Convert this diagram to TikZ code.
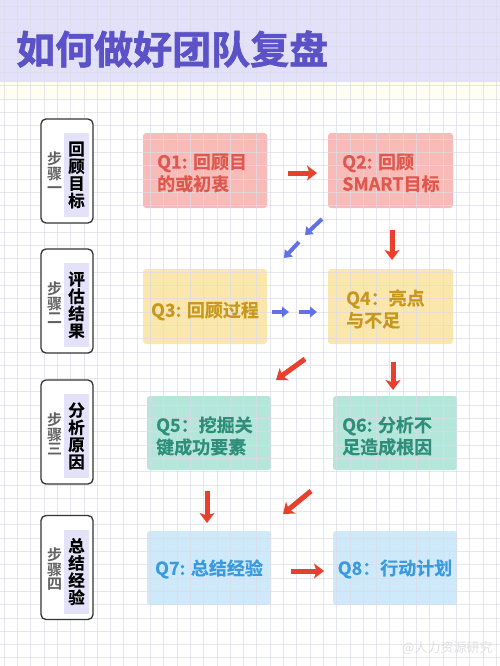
\documentclass[tikz,border=0pt]{standalone}
\usepackage{fontspec}
\setmainfont{Noto Sans CJK SC}[BoldFont={* Bold}]
\newfontfamily\titlefont{Noto Sans CJK SC Bold}[FakeBold=1.6]
\newfontfamily\heavyfont{Noto Sans CJK SC Bold}[FakeBold=0.5]
\usetikzlibrary{arrows.meta}
\definecolor{bandc}{HTML}{E3E1FA}
\definecolor{titlec}{HTML}{5C52C8}
\definecolor{gridc}{HTML}{DCDCE8}
\definecolor{stripc}{HTML}{E4E2F8}
\definecolor{redfill}{HTML}{F8B2AE}\definecolor{redtext}{HTML}{E0574E}
\definecolor{yelfill}{HTML}{FBE3A0}\definecolor{yeltext}{HTML}{C8981C}
\definecolor{grnfill}{HTML}{ABE3D6}\definecolor{grntext}{HTML}{2E8E7A}
\definecolor{blufill}{HTML}{C8E6FA}\definecolor{blutext}{HTML}{3A9AE0}
\definecolor{redarr}{HTML}{E8402C}
\definecolor{bluarr}{HTML}{6272E6}
\tikzset{
  qbox/.style={rounded corners=3pt, fill opacity=0.88},
  qtext/.style={font=\heavyfont\fontsize{18}{22}\selectfont, align=left, inner sep=0pt},
  stepbox/.style={draw=black!80, line width=1.3pt, rounded corners=5pt, fill=white},
  striptext/.style={font=\heavyfont\fontsize{16.5}{17.2}\selectfont, align=center, inner sep=0pt, text=black},
  graytext/.style={font=\bfseries\fontsize{15}{14.5}\selectfont, align=center, inner sep=0pt, text=black!62},
  redarrow/.style={draw=redarr, line width=5pt, -{Stealth[length=10pt,width=15pt,inset=2.5pt]}},
  bluarrow/.style={draw=bluarr, line width=4pt, -{Triangle[length=7pt,width=10.5pt]}},
}
\begin{document}
\begin{tikzpicture}[x=1pt,y=-1pt]
\useasboundingbox (0,0) rectangle (500,666);
\clip (0,0) rectangle (500,666);
\fill[white] (0,0) rectangle (500,666);
% title band
\fill[bandc] (0,0) rectangle (500,82);
\fill[yellow!5] (0,82) rectangle (500,100);
% Q box fills
\fill[qbox, redfill] (143,133) rectangle (267,208);
\fill[qbox, redfill] (328,133) rectangle (453,208);
\fill[qbox, yelfill] (143,269) rectangle (267,344);
\fill[qbox, yelfill] (328,269) rectangle (453,344);
\fill[qbox, grnfill] (147,396) rectangle (271,470);
\fill[qbox, grnfill] (333,396) rectangle (457,470);
\fill[qbox, blufill] (147,531) rectangle (271,605);
\fill[qbox, blufill] (333,531) rectangle (457,605);
% grid
\foreach \i in {0,...,38} \draw[gridc, line width=0.6pt, opacity=0.7] (\i*13.3+4,0) -- (\i*13.3+4,666);
\foreach \j in {0,...,50} \draw[gridc, line width=0.6pt, opacity=0.7] (0,\j*13.3+6) -- (500,\j*13.3+6);
% title
\node[anchor=west, inner sep=0pt, text=titlec, font=\titlefont\fontsize{39}{40}\selectfont] (title) at (16,49) {如何做好团队复盘};
% step boxes
\foreach \n/\c/\s/\g in {1/171/回\\顾\\目\\标/步\\骤\\一, 2/301/评\\估\\结\\果/步\\骤\\二, 3/432/分\\析\\原\\因/步\\骤\\三, 4/567.5/总\\结\\经\\验/步\\骤\\四}{
  \draw[stepbox] (41,\c-52) rectangle (93,\c+52);
  \fill[stripc] (64,\c-38) rectangle (89,\c+46);
  \node[striptext] (s\n) at (76.5,\c+4) {\s};
  \node[graytext] (g\n) at (54.5,\c+2) {\g};
}
% Q texts
\node[qtext, text=redtext, anchor=west] (q1) at (157,173) {Q1: 回顾目\\的或初衷};
\node[qtext, text=redtext, anchor=west] (q2) at (342,173) {Q2: 回顾\\SMART目标};
\node[qtext, text=yeltext] (q3) at (205,311) {Q3: 回顾过程};
\node[qtext, text=yeltext, anchor=west] (q4) at (346,309) {Q4：亮点\\与不足};
\node[qtext, text=grntext, anchor=west] (q5) at (156,436) {Q5：挖掘关\\键成功要素};
\node[qtext, text=grntext, anchor=west] (q6) at (342,436) {Q6: 分析不\\足造成根因};
\node[qtext, text=blutext] (q7) at (209,569) {Q7: 总结经验};
\node[qtext, text=blutext] (q8) at (395,569) {Q8：行动计划};
% arrow coordinates
\coordinate (r1a) at (288,173); \coordinate (r1b) at (317,173);
\coordinate (b1a) at (322,219); \coordinate (b1b) at (305,235);
\coordinate (b2a) at (299,242); \coordinate (b2b) at (284,258);
\coordinate (r2a) at (392,230); \coordinate (r2b) at (392,260);
\coordinate (b3a) at (272,312); \coordinate (b3b) at (289,312);
\coordinate (b4a) at (299,312); \coordinate (b4b) at (317,312);
\coordinate (r3a) at (305,359); \coordinate (r3b) at (276,380);
\coordinate (r4a) at (393,362); \coordinate (r4b) at (393,390);
\coordinate (r5a) at (207,491); \coordinate (r5b) at (207,523);
\coordinate (r6a) at (311,491); \coordinate (r6b) at (283,514);
\coordinate (r7a) at (291,571); \coordinate (r7b) at (324,571);
\draw[redarrow] (r1a) -- (r1b);
\draw[bluarrow] (b1a) -- (b1b);
\draw[bluarrow] (b2a) -- (b2b);
\draw[redarrow] (r2a) -- (r2b);
\draw[bluarrow] (b3a) -- (b3b);
\draw[bluarrow] (b4a) -- (b4b);
\draw[redarrow] (r3a) -- (r3b);
\draw[redarrow] (r4a) -- (r4b);
\draw[redarrow] (r5a) -- (r5b);
\draw[redarrow] (r6a) -- (r6b);
\draw[redarrow] (r7a) -- (r7b);
% watermark
\node[anchor=west, inner sep=0pt, text=black!12, font=\fontsize{13}{14}\selectfont] (wm) at (402,648) {@人力资源研究};
\end{tikzpicture}
\end{document}
